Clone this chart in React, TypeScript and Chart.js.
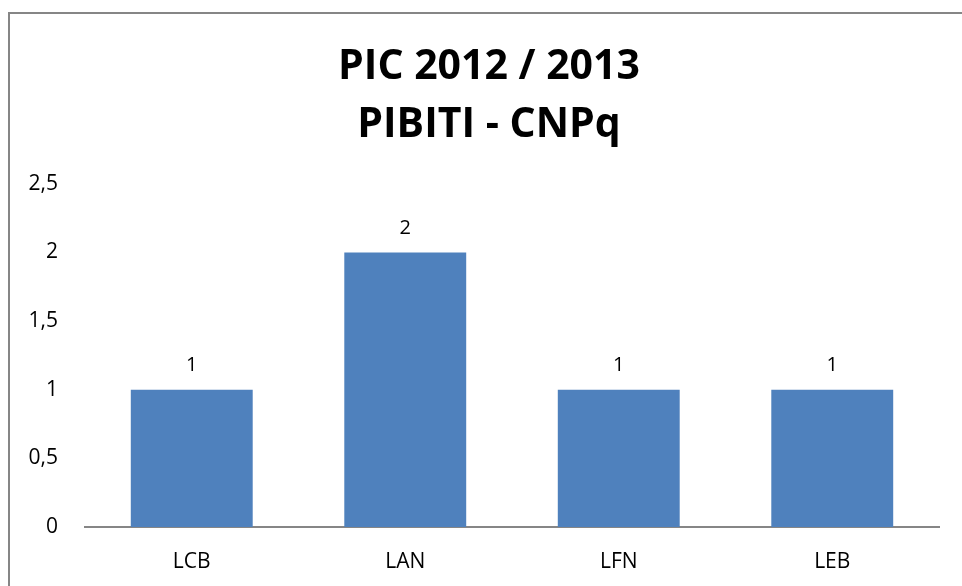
import React, { useEffect, useRef } from "react";
import { Chart, registerables } from "chart.js";

Chart.register(...registerables);

const titleLines = ["PIC 2012 / 2013", "PIBITI - CNPq"];
const categories = ["LCB", "LAN", "LFN", "LEB"];
const values = [1, 2, 1, 1];
const yMin = 0;
const yMax = 2.5;
const yStep = 0.5;

const FONT = "'Open Sans', 'Noto Sans', sans-serif";

const framePlugin = {
  id: "frame",
  beforeDraw(chart: any) {
    const ctx = chart.ctx;
    ctx.save();
    ctx.strokeStyle = "#868686";
    ctx.lineWidth = 2;
    ctx.beginPath();
    ctx.moveTo(9, chart.height);
    ctx.lineTo(9, 13);
    ctx.lineTo(chart.width, 13);
    ctx.stroke();
    ctx.restore();
  },
};

const valueLabelPlugin = {
  id: "valueLabels",
  afterDatasetsDraw(chart: any) {
    const ctx = chart.ctx;
    ctx.save();
    ctx.font = `20px ${FONT}`;
    ctx.fillStyle = "#000000";
    ctx.textAlign = "center";
    ctx.textBaseline = "middle";
    chart.data.datasets.forEach((ds: any, di: number) => {
      const meta = chart.getDatasetMeta(di);
      meta.data.forEach((bar: any, i: number) => {
        ctx.fillText(String(ds.data[i]), bar.x, bar.y - 24);
      });
    });
    ctx.restore();
  },
};

export default function App() {
  const ref = useRef<HTMLCanvasElement | null>(null);
  useEffect(() => {
    if (!ref.current) return;
    const chart = new Chart(ref.current, {
      type: "bar",
      data: {
        labels: categories,
        datasets: [
          {
            data: values,
            backgroundColor: "#4F81BD",
            borderWidth: 0,
            barPercentage: 0.571,
            categoryPercentage: 1,
          },
        ],
      },
      options: {
        responsive: false,
        animation: false,
        layout: { padding: { left: 16, right: 0, top: 0, bottom: 0 } },
        plugins: {
          legend: { display: false },
          tooltip: { enabled: false },
          title: {
            display: true,
            text: titleLines,
            color: "#000000",
            font: { family: FONT, size: 41, weight: "bold", lineHeight: 1.4 },
            padding: { top: 39, bottom: 30 },
          },
        },
        scales: {
          x: {
            grid: { display: false },
            border: { display: true, color: "#868686", width: 2 },
            ticks: { color: "#000000", font: { family: FONT, size: 21 }, padding: 14 },
            afterFit(scale: any) {
              scale.height = 59;
            },
          },
          y: {
            min: yMin,
            max: yMax,
            grid: { display: false },
            border: { display: false },
            ticks: {
              stepSize: yStep,
              color: "#000000",
              font: { family: FONT, size: 21 },
              padding: 19,
              callback: (v: any) => String(v).replace(".", ","),
            },
            afterFit(scale: any) {
              scale.width = 69;
            },
          },
          yRight: {
            position: "right",
            display: true,
            min: yMin,
            max: yMax,
            grid: { display: false },
            border: { display: false },
            ticks: { display: false },
            afterFit(scale: any) {
              scale.width = 23;
            },
          },
        },
      },
      plugins: [framePlugin, valueLabelPlugin],
    });
    return () => chart.destroy();
  }, []);
  return (
    <div style={{ position: "fixed", left: 0, top: 0, width: 962, height: 586, background: "#fff" }}>
      <canvas ref={ref} width={962} height={586} style={{ display: "block" }} />
    </div>
  );
}
